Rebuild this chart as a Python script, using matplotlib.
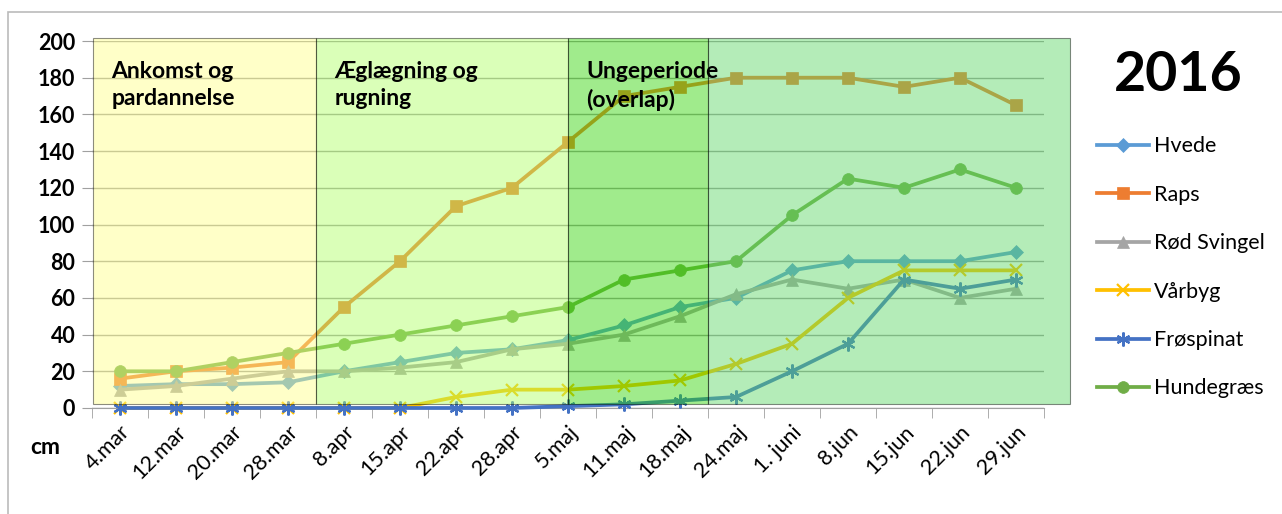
import matplotlib
matplotlib.use("Agg")
import matplotlib.pyplot as plt
from matplotlib.patches import Rectangle
import numpy as np

plt.rcParams['font.family'] = ['Lato', 'DejaVu Sans']

# data (cm)
dates = ['4.mar', '12.mar', '20.mar', '28.mar', '8.apr', '15.apr', '22.apr', '28.apr',
         '5.maj', '11.maj', '18.maj', '24.maj', '1. juni', '8.jun', '15.jun', '22.jun', '29.jun']
hvede = [12, 13, 13, 14, 20, 25, 30, 32, 37, 45, 55, 60, 75, 80, 80, 80, 85]
raps = [16, 20, 22, 25, 55, 80, 110, 120, 145, 170, 175, 180, 180, 180, 175, 180, 165]
roed_svingel = [10, 12, 16, 20, 20, 22, 25, 32, 35, 40, 50, 62, 70, 65, 70, 60, 65]
vaarbyg = [0, 0, 0, 0, 0, 0, 6, 10, 10, 12, 15, 24, 35, 60, 75, 75, 75]
froespinat = [0, 0, 0, 0, 0, 0, 0, 0, 1, 2, 4, 6, 20, 35, 70, 65, 70]
hundegraes = [20, 20, 25, 30, 35, 40, 45, 50, 55, 70, 75, 80, 105, 125, 120, 130, 120]

series = [
    ('Hvede', hvede, '#5B9BD5', 'D', 7.5),
    ('Raps', raps, '#ED7D31', 's', 8.5),
    ('Rød Svingel', roed_svingel, '#A5A5A5', '^', 8.5),
    ('Vårbyg', vaarbyg, '#FFC000', 'x', 9),
    ('Frøspinat', froespinat, '#4472C4', (6, 2, 0), 10),
    ('Hundegræs', hundegraes, '#70AD47', 'o', 8.5),
]

# periods: (start, end, colour, label)
periods = [
    (-0.48, 3.5, '#FFFF85', 'Ankomst og\npardannelse'),
    (3.5, 8.0, '#ADFF63', 'Æglægning og\nrugning'),
    (8.0, 10.5, '#2CD300', 'Ungeperiode\n(overlap)'),
    (10.5, 16.96, '#5AD763', None),
]

fig = plt.figure(figsize=(12.82, 5.14), dpi=100)
fig.patches.append(Rectangle((8 / 1282, -0.1), 1.2, 1 - 12 / 514 + 0.1, transform=fig.transFigure,
                             fill=False, edgecolor='#BBBBBB', lw=1.2))
ax = fig.add_axes([92 / 1282, 1 - 408 / 514, (1044 - 92) / 1282, (408 - 41) / 514])

x = np.arange(len(dates))
handles = []
for name, vals, col, mk, ms in series:
    h, = ax.plot(x, vals, color=col, lw=2.7, marker=mk, markersize=ms,
                 markeredgewidth=1.6 if mk in ('x', (6, 2, 0)) else 0.5,
                 markeredgecolor=col, label=name, zorder=3, clip_on=False)
    handles.append(h)

for x0, x1, col, label in periods:
    ax.add_patch(Rectangle((x0, 2.2), x1 - x0, 199.4, facecolor=col, alpha=0.45,
                           edgecolor='black', lw=0.8, zorder=4, clip_on=False))
    if label:
        ax.text(x0 + 0.33, 189, label, fontsize=16.5, fontweight='bold', va='top',
                ha='left', linespacing=1.35, zorder=6)

ax.set_xlim(-0.5, 16.5)
ax.set_ylim(0, 200)
ax.set_yticks(range(0, 201, 20))
ax.yaxis.grid(True, color='#A0A0A0', lw=1.0, zorder=1)
ax.set_axisbelow(True)
ax.set_xticks(x)
ax.set_xticklabels(dates, rotation=45, ha='right', rotation_mode='anchor', fontsize=15.5)
ax.set_xticks(np.arange(-0.5, 16.6, 1), minor=True)
ax.tick_params(axis='x', which='major', length=0, pad=10)
ax.tick_params(axis='x', which='minor', length=7, color='#A0A0A0')
ax.tick_params(axis='y', length=7, color='#A0A0A0', labelsize=15.5, pad=5)
for lab in ax.get_yticklabels():
    lab.set_fontweight('bold')
for s in ['top', 'right', 'left']:
    ax.spines[s].set_visible(False)
ax.spines['bottom'].set_color('#A0A0A0')

fig.text(45 / 1282, 1 - 448 / 514, 'cm', fontsize=16.5, fontweight='bold', ha='center', va='center')
fig.text(1178 / 1282, 1 - 75 / 514, '2016', fontsize=40, fontweight='bold', ha='center', va='center')

fig.legend(handles=handles, loc='upper left', bbox_to_anchor=(1078 / 1282, 1 - 117 / 514),
           frameon=False, fontsize=15.5, handlelength=2.4, labelspacing=1.32, handletextpad=0.25)

fig.savefig('out.png', dpi=100)
